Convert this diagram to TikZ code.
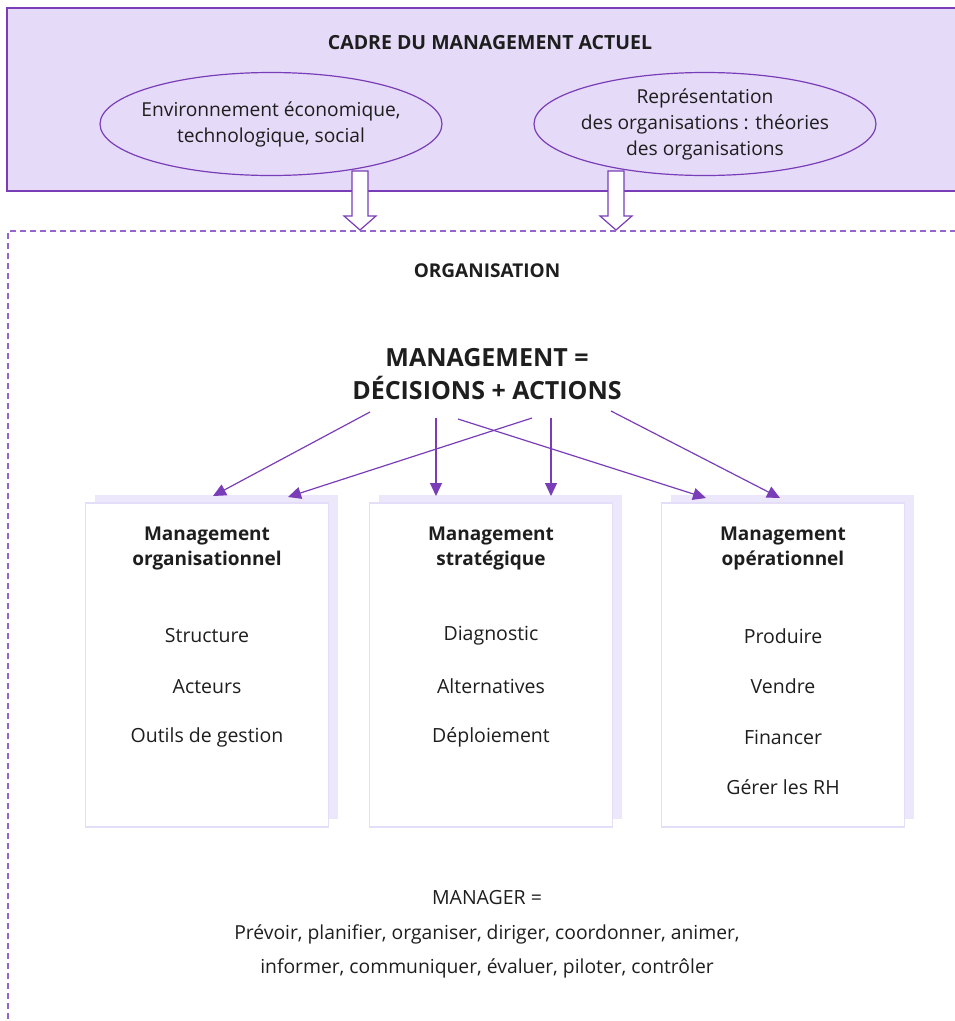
\documentclass[tikz,border=0pt]{standalone}
\usepackage{fontspec}
\setmainfont{Open Sans}
\usetikzlibrary{shapes.geometric, arrows.meta, shadows}

\begin{document}
\begin{tikzpicture}
			[x=1pt,y=-1pt,line join=miter,
			%Styles
			frame text/.style={font=\fontsize{19.5}{22}\selectfont\bfseries},
			bubble/.style={ellipse,draw=mgpurple,line width=1.2pt,fill=mgfill,minimum width=342pt,minimum height=103pt,inner sep=0pt},
			bubble text/.style={align=center,font=\fontsize{19.2}{26}\selectfont},
			block/.style={draw=mgedge,line width=1.2pt,fill=white,minimum width=243pt,minimum height=324pt,inner sep=0pt,
				copy shadow={shadow xshift=9pt,shadow yshift=8pt,fill=mgshadow,draw=none}},
			block title/.style={align=center,font=\fontsize{19}{25}\selectfont\bfseries},
			item/.style={font=\fontsize{19.5}{22}\selectfont},
			link/.style={mgpurple,line width=1.2pt,-{Triangle[length=13pt,width=12pt]}},
			hollow/.style={draw=mgpurple,line width=1.2pt,fill=white}
			]
			
			%Colors
			\definecolor{mgpurple}{RGB}{122,61,184}
			\definecolor{mgdash}{RGB}{150,100,205}
			\definecolor{mgfill}{RGB}{229,218,247}
			\definecolor{mgshadow}{RGB}{237,231,251}
			\definecolor{mgedge}{RGB}{228,222,248}
			\definecolor{mgtext}{RGB}{30,30,30}
			
			%The graphic
			\useasboundingbox (0,0) rectangle (955,1021);
			\color{mgtext}
			
			% frame
			\draw[mgpurple,line width=1.2pt,fill=mgfill] (7,8) rectangle (957,191);
			\node[frame text] (cadre) at (490,43) {CADRE DU MANAGEMENT ACTUEL};
			\node[bubble] (env) at (271,124) {};
			\node[bubble text] (envtxt) at (env.center) {Environnement économique,\\technologique, social};
			\node[bubble] (repr) at (705,124) {};
			\node[bubble text] (reprtxt) at (repr.center) {Représentation\\des organisations : théories\\des organisations};
			
			\draw[hollow] (352,171) -- (368,171) -- (368,216) -- (376,216) -- (360,230) -- (344,216) -- (352,216) -- cycle;
			\draw[hollow] (608,171) -- (624,171) -- (624,216) -- (632,216) -- (616,230) -- (600,216) -- (608,216) -- cycle;
			
			% organisation
			\draw[mgdash,line width=1.2pt,dash pattern=on 6pt off 4pt] (956,231) -- (8,231) -- (8,1021);
			\node[frame text,font=\fontsize{19}{22}\selectfont\bfseries] (orga) at (487,271) {ORGANISATION};
			\node[align=center,font=\fontsize{25}{33}\selectfont\bfseries] (mgt) at (487,374) {MANAGEMENT =\\DÉCISIONS + ACTIONS};
			
			% blocks
			\node[block] (bo) at (207,665) {};
			\node[block] (bs) at (491,665) {};
			\node[block] (bp) at (783,665) {};
			
			\node[block title] at (207,548) {Management\\organisationnel};
			\node[block title] at (491,548) {Management\\stratégique};
			\node[block title] at (783,548) {Management\\opérationnel};
			
			\foreach \txt [count=\i] in {Structure,Acteurs,Outils de gestion}
				\node[item] (o\i) at (207,636+50.5*\i-50.5) {\txt};
			\foreach \txt [count=\i] in {Diagnostic,Alternatives,Déploiement}
				\node[item] (s\i) at (491,636+50.5*\i-50.5) {\txt};
			\foreach \txt [count=\i] in {Produire,Vendre,Financer,Gérer les RH}
				\node[item] (p\i) at (783,636+50.5*\i-50.5) {\txt};
			
			% links
			\coordinate (a1) at (370,412); \coordinate (b1) at (213,496);
			\coordinate (a2) at (532,418); \coordinate (b2) at (288,497);
			\coordinate (a3) at (436,418); \coordinate (b3) at (436,496);
			\coordinate (a4) at (551,418); \coordinate (b4) at (551,496);
			\coordinate (a5) at (458,419); \coordinate (b5) at (706,498);
			\coordinate (a6) at (611,411); \coordinate (b6) at (780,498);
			\foreach \i in {1,...,6}
				\draw[link] (a\i) -- (b\i);
			
			% manager
			\node[item] (mgr) at (487,898) {MANAGER =};
			\node[item,align=center,font=\fontsize{19.3}{34}\selectfont] (roles) at (487,951)
				{Prévoir, planifier, organiser, diriger, coordonner, animer,\\informer, communiquer, évaluer, piloter, contrôler};
		\end{tikzpicture}
\end{document}
